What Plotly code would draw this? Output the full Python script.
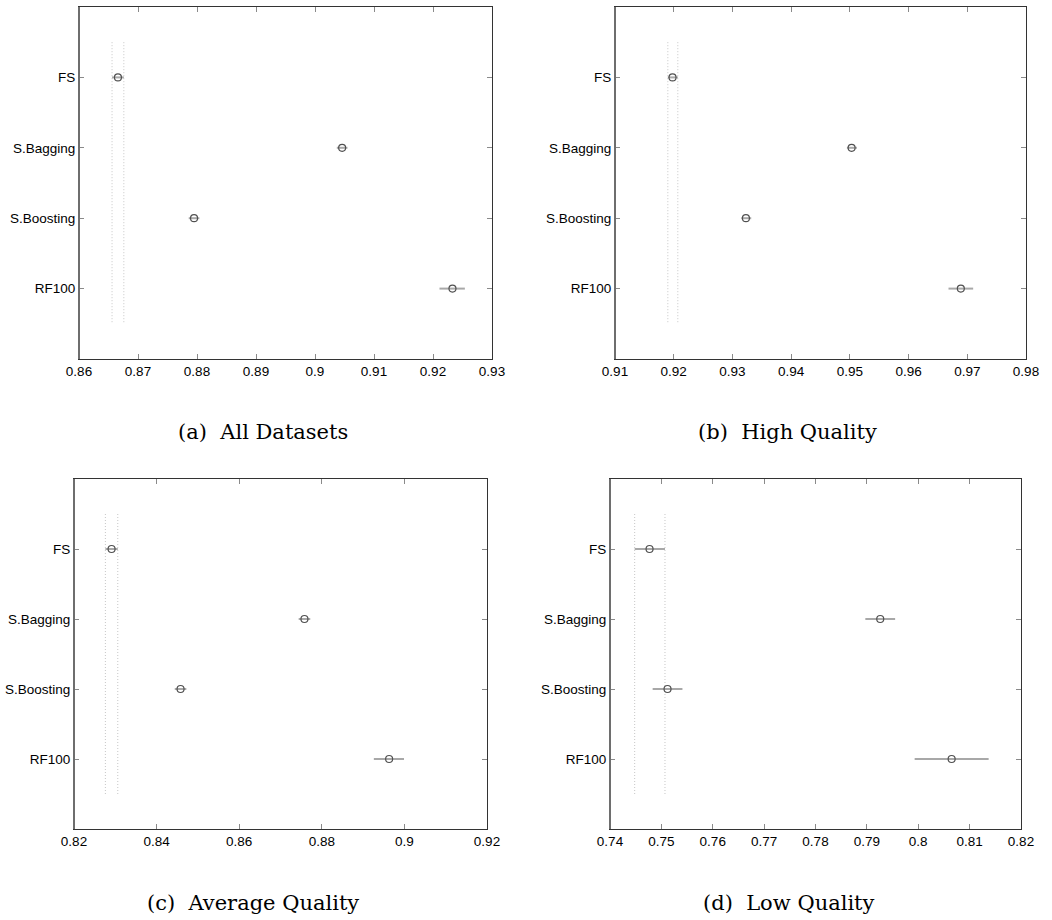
import plotly.graph_objects as go

W, H = 1052, 920

categories = ["FS", "S.Bagging", "S.Boosting", "RF100"]
cat_pos = [1, 2, 3, 4]

# (a) All Datasets
a_mean = [0.8666, 0.9046, 0.8795, 0.9233]
a_lo = [0.8656, 0.9037, 0.8786, 0.9211]
a_hi = [0.8676, 0.9055, 0.8804, 0.9254]

# (b) High Quality
b_mean = [0.9198, 0.9503, 0.9323, 0.9689]
b_lo = [0.9190, 0.9495, 0.9315, 0.9668]
b_hi = [0.9207, 0.9512, 0.9332, 0.9710]

# (c) Average Quality
c_mean = [0.8291, 0.8758, 0.8458, 0.8963]
c_lo = [0.8276, 0.8744, 0.8444, 0.8926]
c_hi = [0.8306, 0.8772, 0.8472, 0.8999]

# (d) Low Quality
d_mean = [0.7477, 0.7926, 0.7512, 0.8065]
d_lo = [0.7448, 0.7897, 0.7483, 0.7993]
d_hi = [0.7507, 0.7955, 0.7541, 0.8137]

panels = [
    dict(mean=a_mean, lo=a_lo, hi=a_hi, xr=[0.86, 0.93], ticks=[0.86, 0.87, 0.88, 0.89, 0.9, 0.91, 0.92, 0.93],
         dom_x=[79, 492], dom_y=[7, 359], caption="(a)  All Datasets", cap_x=263, cap_y=432),
    dict(mean=b_mean, lo=b_lo, hi=b_hi, xr=[0.91, 0.98], ticks=[0.91, 0.92, 0.93, 0.94, 0.95, 0.96, 0.97, 0.98],
         dom_x=[615, 1026], dom_y=[7, 359], caption="(b)  High Quality", cap_x=787, cap_y=432),
    dict(mean=c_mean, lo=c_lo, hi=c_hi, xr=[0.82, 0.92], ticks=[0.82, 0.84, 0.86, 0.88, 0.9, 0.92],
         dom_x=[74, 487], dom_y=[479, 829], caption="(c)  Average Quality", cap_x=253, cap_y=903),
    dict(mean=d_mean, lo=d_lo, hi=d_hi, xr=[0.74, 0.82], ticks=[0.74, 0.75, 0.76, 0.77, 0.78, 0.79, 0.8, 0.81, 0.82],
         dom_x=[610, 1021], dom_y=[479, 829], caption="(d)  Low Quality", cap_x=789, cap_y=903),
]

def fmt(v):
    return ("%.2f" % v).rstrip("0")

fig = go.Figure()
layout = dict(width=W, height=H, margin=dict(l=0, r=0, t=0, b=0, autoexpand=False),
              paper_bgcolor="white", plot_bgcolor="white", showlegend=False)
annotations = []
shapes = []
tick_font = dict(family="Liberation Sans, Arial, sans-serif", size=13.5, color="black")

for i, p in enumerate(panels):
    n = "" if i == 0 else str(i + 1)
    xa, ya = "x" + n, "y" + n
    # dotted reference lines at FS interval limits
    for xv in (p["lo"][0], p["hi"][0]):
        fig.add_trace(go.Scatter(x=[xv, xv], y=[0.5, 4.5], mode="lines",
                                 line=dict(color="#c6c6c6", width=1, dash="1px,2px"),
                                 xaxis=xa, yaxis=ya, hoverinfo="skip"))
    plus = [h - m for h, m in zip(p["hi"], p["mean"])]
    minus = [m - l for m, l in zip(p["mean"], p["lo"])]
    fig.add_trace(go.Scatter(x=p["mean"], y=cat_pos, mode="markers",
                             marker=dict(symbol="circle-open", size=7, color="#505050",
                                         line=dict(width=1.2, color="#505050")),
                             error_x=dict(type="data", array=plus, arrayminus=minus,
                                          color="#a8a8a8", thickness=2, width=0),
                             xaxis=xa, yaxis=ya))
    x0, x1 = p["dom_x"]
    yt, yb = p["dom_y"]
    layout["xaxis" + n] = dict(domain=[x0 / W, x1 / W], range=p["xr"], anchor=ya, automargin=False,
                               tickvals=p["ticks"], ticktext=[fmt(t) for t in p["ticks"]],
                               ticks="inside", ticklen=5, tickcolor="#8a8a8a", tickwidth=1,
                               showline=True, linecolor="#333333", linewidth=1, mirror="ticks",
                               showgrid=False, zeroline=False, tickfont=tick_font)
    layout["yaxis" + n] = dict(domain=[1 - yb / H, 1 - yt / H], range=[5, 0], anchor=xa, automargin=False,
                               tickvals=cat_pos, ticktext=categories,
                               ticks="inside", ticklen=5, tickcolor="#8a8a8a", tickwidth=1,
                               showline=True, linecolor="#333333", linewidth=1, mirror="ticks",
                               showgrid=False, zeroline=False, tickfont=tick_font)
    # thicker gray left axis line
    shapes.append(dict(type="line", xref=xa + " domain", yref=ya + " domain",
                       x0=0, x1=0, y0=0, y1=1, line=dict(color="#6e6e6e", width=2)))
    annotations.append(dict(text=p["caption"], x=p["cap_x"] / W, y=1 - p["cap_y"] / H,
                            xref="paper", yref="paper", showarrow=False,
                            xanchor="center", yanchor="middle",
                            font=dict(family="DejaVu Serif, serif", size=21, color="black")))

layout["annotations"] = annotations
layout["shapes"] = shapes
fig.update_layout(**layout)
fig.write_html("out.html")
